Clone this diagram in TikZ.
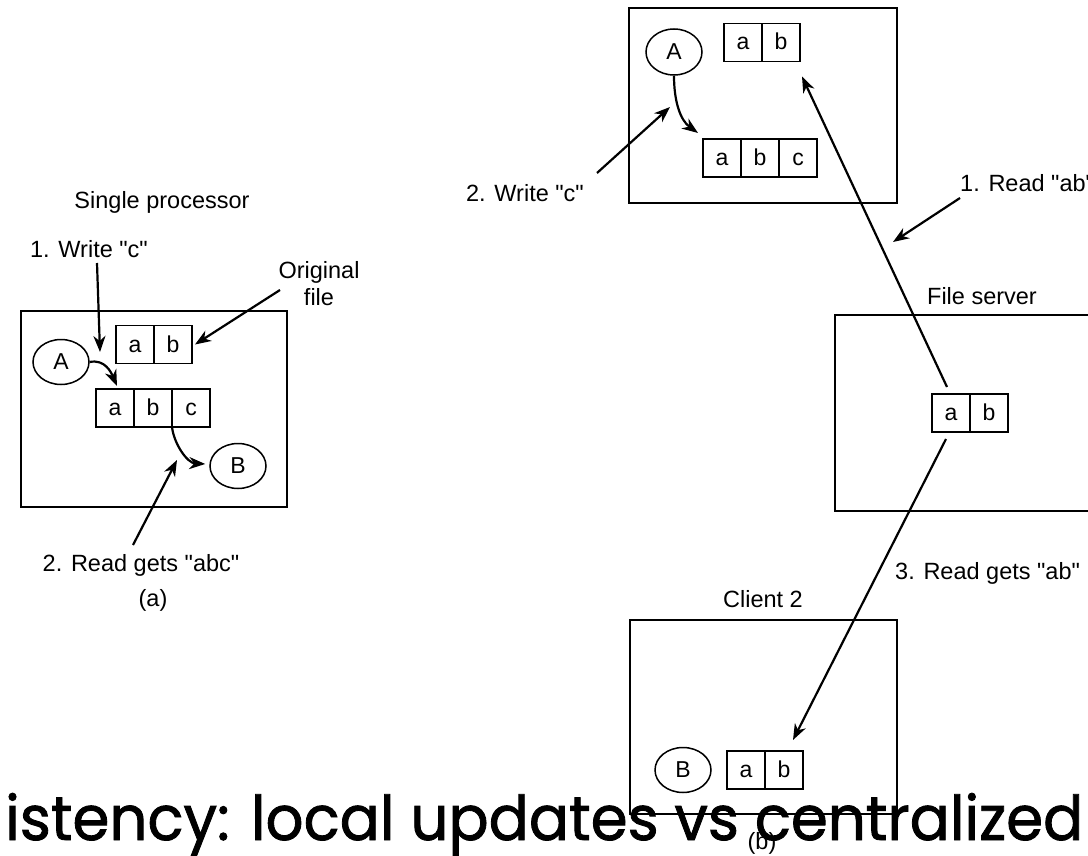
\documentclass[tikz,border=0pt]{standalone}
\usepackage{graphicx}
\usepackage{fontspec}
\setmainfont{Liberation Sans}[Ligatures=TeXOff]
\newfontfamily\bannerfont{Poppins}[FakeBold=1.4]
\usetikzlibrary{arrows.meta,calc,shapes.geometric}

\begin{document}
\begin{tikzpicture}[x=1pt,y=-1pt,
  frame/.style={draw,line width=1.8pt},
  cell/.style={draw,line width=1.5pt,minimum width=38pt,minimum height=38pt,
    inner sep=0pt,outer sep=0pt,text height=15pt,text depth=0pt,
    font=\fontsize{23}{25}\selectfont},
  proc/.style={draw,ellipse,line width=1.5pt,minimum width=56pt,minimum height=45pt,
    inner sep=0pt,font=\fontsize{23}{25}\selectfont},
  lbl/.style={inner sep=0pt,font=\fontsize{23.5}{27}\selectfont},
  arr/.style={line width=2.2pt,-{Stealth[length=16pt,width=12pt,inset=5pt]}}]
\useasboundingbox (0,0) rectangle (1088,856);
\fill[white] (0,0) rectangle (1088,856);

% ---------- (a) single processor ----------
\node[lbl] (sp) at (162,202) {Single processor};
\draw[frame] (21,311) rectangle (287,507);
\node[cell] (oa1) at (135,344.5) {a};
\node[cell] (oa2) at (173,344.5) {b};
\node[cell] (ca1) at (115,408) {a};
\node[cell] (ca2) at (153,408) {b};
\node[cell] (ca3) at (191,408) {c};
\node[proc] (pa) at (61,362) {A};
\node[proc] (pb) at (238,466) {B};

\node[lbl] (w1) at (89,249) {1. Write "c"};
\node[lbl,align=center] (orig) at (319,284) {Original\\file};
\node[lbl] (r2) at (141,565) {2. Read gets "abc"};
\node[lbl] (capa) at (153,600) {(a)};

\coordinate (w1s) at (97,263);
\coordinate (w1t) at (100,352);
\coordinate (ors) at (280,290);
\coordinate (r2s) at (133,545);
\coordinate (r2t) at (177,460);

\draw[arr] (pa.east) .. controls +(15,-3) and +(-6,-14) .. ([xshift=2pt,yshift=3pt]ca1.north);
\draw[arr] (ca3.south west) .. controls +(2,17) and +(-18,-1) .. ([xshift=-4pt,yshift=2pt]pb.west);
\draw[arr] (w1s) -- (w1t);
\draw[arr] (ors) -- ([xshift=3pt]oa2.east);
\draw[arr] (r2s) -- (r2t);

% ---------- (b) client 1 ----------
\draw[frame] (629,8) rectangle (897,203);
\node[proc,minimum height=46pt] (pA) at (674,52) {A};
\node[cell] (c1a) at (743,42.5) {a};
\node[cell] (c1b) at (781,42.5) {b};
\node[cell] (cb1) at (722,158) {a};
\node[cell] (cb2) at (760,158) {b};
\node[cell] (cb3) at (798,158) {c};
\draw[arr] (pA.south) .. controls +(0,25) and +(-18,-13) .. ([xshift=-5pt,yshift=6pt]cb1.north west);

\node[lbl] (w2) at (525,193) {2. Write "c"};
\coordinate (w2s) at (597,173);
\coordinate (w2t) at (670,107);
\draw[arr] (w2s) -- (w2t);

% ---------- file server ----------
\node[lbl] (fsl) at (982,296) {File server};
\draw[frame] (835,315) rectangle (1100,511);
\node[cell] (fsa) at (951,413) {a};
\node[cell] (fsb) at (989,413) {b};

\node[lbl,anchor=west] (rd1) at (960,183) {1. Read "ab"};
\coordinate (rd1s) at (960,198);
\coordinate (rd1t) at (893,242);
\draw[arr] (rd1s) -- (rd1t);

\draw[arr] ([xshift=-4pt,yshift=7pt]fsa.north) -- ([xshift=21pt,yshift=-15pt]c1b.south);

% ---------- client 2 ----------
\node[lbl] (c2l) at (763,599) {Client 2};
\draw[frame] (630,620) rectangle (897,814);
\node[proc] (pB) at (683,770) {B};
\node[cell] (c2a) at (746,770) {a};
\node[cell] (c2b) at (784,770) {b};
\node[lbl,anchor=west] (rd3) at (895,573) {3. Read gets "ab"};
\draw[arr] ([xshift=-5pt,yshift=-7pt]fsa.south) -- ([xshift=9pt,yshift=11pt]c2b.north);
\node[lbl] (capb) at (762,843) {(b)};

% ---------- caption line ----------
\node[anchor=base west,inner sep=0pt] (banner) at (5,840)
  {\resizebox{1078pt}{47pt}{\bannerfont istency: local updates vs centralized}};
\end{tikzpicture}
\end{document}
